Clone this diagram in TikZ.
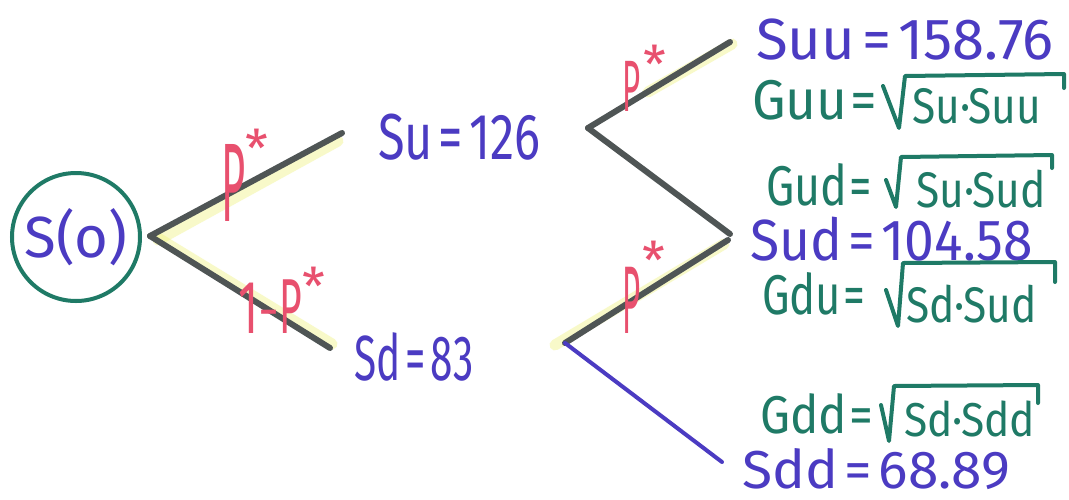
\documentclass[tikz,border=0pt]{standalone}
\usepackage{fontspec}
\setmainfont{Fira Sans}
\usetikzlibrary{calc}
\definecolor{pur}{HTML}{4B3BC2}
\definecolor{tea}{HTML}{1F7A66}
\definecolor{rd}{HTML}{E8506E}
\definecolor{gry}{HTML}{4F5555}
\definecolor{hl}{HTML}{EEF27A}
\newcommand{\eqgap}{\kern 7pt}
\begin{document}
\begin{tikzpicture}[x=1pt,y=-1pt,
  branch/.style={draw=gry, line width=6pt, line cap=round},
  pbranch/.style={draw=pur, line width=4pt, line cap=round},
  glow/.style={draw=hl, line width=11pt, line cap=round, opacity=0.4},
  ptxt/.style={text=pur, font=\fontsize{58}{60}\selectfont, inner sep=0pt},
  gtxt/.style={text=tea, font=\fontsize{56}{58}\selectfont, inner sep=0pt},
  rtxt/.style={text=tea, font=\fontsize{50}{52}\selectfont, inner sep=0pt},
  ptag/.style={text=rd, font=\fontsize{52}{52}\selectfont, inner sep=0pt},
  radic/.style={draw=tea, line width=4pt, line cap=round, line join=round},
]
\useasboundingbox (0,0) rectangle (1069,499);
\fill[white] (0,0) rectangle (1069,499);

% branch points
\coordinate (root) at (150,236);
\coordinate (uEnd) at (342,133);
\coordinate (dEnd) at (330,348);
\coordinate (uStart) at (588,128);
\coordinate (uuEnd) at (730,42);
\coordinate (udEnd) at (730,234);
\coordinate (dStart) at (565,343);
\coordinate (duEnd) at (728,240);
\coordinate (ddEnd) at (722,462);

% highlights
\draw[glow] ($(root)+(8,4)$) -- ($(uEnd)+(-4,8)$);
\draw[glow] ($(root)+(8,2)$) -- ($(dEnd)+(2,-4)$);
\draw[glow] ($(uStart)+(60,-36)$) -- ($(uuEnd)+(2,2)$);
\draw[glow] ($(dStart)+(-10,2)$) -- ($(duEnd)+(-4,4)$);

% root circle
\node[draw=tea, line width=4pt, circle, minimum size=128pt, inner sep=0pt,
      text=pur, font=\fontsize{58}{60}\selectfont] (s0) at (76,237) {S(o)};

% branches
\draw[branch] (root) -- (uEnd);
\draw[branch] (root) -- (dEnd);
\draw[branch] (uStart) -- (uuEnd);
\draw[branch] (uStart) -- (udEnd);
\draw[branch] (dStart) -- (duEnd);
\draw[pbranch] (dStart) -- (ddEnd);

% probability tags
\node[ptag, anchor=south west] (p1) at (221,222) {\scalebox{0.8}[2.15]{P}\raisebox{1.05em}{*}};
\node[ptag, anchor=south west] (p2) at (238,334) {\scalebox{0.9}[1.45]{1}\raisebox{0.1em}{-}\scalebox{0.75}[1.5]{P}\raisebox{0.55em}{*}};
\node[ptag, anchor=south west] (p3) at (622,112) {\scalebox{0.6}[1.4]{P}\kern3pt\raisebox{0.55em}{*}};
\node[ptag, anchor=south west] (p4) at (622,334) {\scalebox{0.6}[1.85]{P}\kern2pt\raisebox{1.05em}{*}};

% middle values
\node[ptxt, anchor=west] (su) at (378,137) {\scalebox{0.84}[1.12]{Su\eqgap=\eqgap126}};
\node[ptxt, anchor=west] (sd) at (354,357) {\scalebox{0.7}[1.1]{Sd\eqgap=\eqgap83}};

% right column values
\node[ptxt, anchor=west] (suu) at (756,40) {Suu\eqgap=\eqgap158.76};
\node[ptxt, anchor=west] (sud) at (750,239) {\scalebox{0.92}[1]{Sud\eqgap=\eqgap104.58}};
\node[ptxt, anchor=west] (sdd) at (742,469) {\scalebox{0.95}[0.92]{Sdd\eqgap=\eqgap68.89}};

% geometric averages
\node[gtxt, anchor=west] (guu) at (752,100) {\scalebox{0.95}[1]{Guu\kern3pt=}};
\node[rtxt, anchor=west] (guur) at (912,106) {\scalebox{0.85}[1]{Su·Suu}};
\draw[radic] (883,86) -- (899,128) -- (905,76) -- (1064,74) -- (1064,88);

\node[gtxt, anchor=west] (gud) at (766,185) {\scalebox{0.8}[1]{Gud\kern3pt=}};
\node[rtxt, anchor=west] (gudr) at (916,189) {\scalebox{0.85}[1]{Su·Sud}};
\draw[radic] (886,180) -- (896,207) -- (901,157) -- (1052,155) -- (1052,168);

\node[gtxt, anchor=west] (gdu) at (762,294) {\scalebox{0.78}[1]{Gdu\kern3pt=}};
\node[rtxt, anchor=west] (gdur) at (906,304) {\scalebox{0.85}[1]{Sd·Sud}};
\draw[radic] (886,290) -- (898,326) -- (903,263) -- (1055,262) -- (1055,282);

\node[gtxt, anchor=west] (gdd) at (760,414) {\scalebox{0.85}[0.95]{Gdd\kern3pt=}};
\node[rtxt, anchor=west] (gddr) at (904,419) {\scalebox{0.85}[0.95]{Sd·Sdd}};
\draw[radic] (881,405) -- (889,441) -- (894,386) -- (1038,385) -- (1038,403);
\end{tikzpicture}
\end{document}
